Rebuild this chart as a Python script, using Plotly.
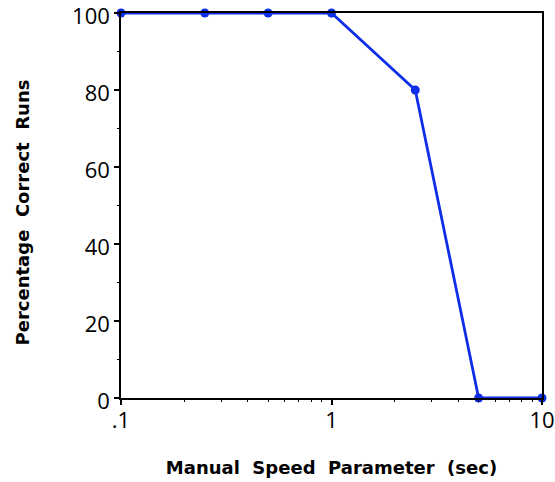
import plotly.graph_objects as go

speed_sec = [0.1, 0.25, 0.5, 1, 2.5, 5, 10]
pct_correct = [100, 100, 100, 100, 80, 0, 0]

x_tickvals = [0.1, 1, 10]
x_ticktext = [".1", "1", "10"]
y_tickvals = [0, 20, 40, 60, 80, 100]

x_minor = [m * d for d in (0.1, 1) for m in range(2, 10)]
y_minor = [10, 30, 50, 70, 90]

blue = "#0f2ee8"
sp = "\u00a0 "
title_font = dict(size=18, family="DejaVu Sans", weight="bold", color="black")

fig = go.Figure()
fig.add_trace(go.Scatter(
    x=speed_sec, y=pct_correct, mode="lines+markers",
    line=dict(color=blue, width=2.8),
    marker=dict(color=blue, size=9),
    cliponaxis=False, showlegend=False,
))

fig.update_layout(
    width=555, height=482,
    margin=dict(l=121, r=13, t=13, b=84),
    paper_bgcolor="white", plot_bgcolor="white",
    font=dict(family="Open Sans", color="black", size=22),
)
fig.update_xaxes(
    type="log", range=[-1, 1], automargin=False, ticklabeloverflow="allow",
    tickmode="array", tickvals=x_tickvals, ticktext=x_ticktext,
    ticks="outside", ticklen=5, tickwidth=1.5, tickcolor="black",
    ticklabelstandoff=-3,
    minor=dict(tickmode="array", tickvals=x_minor, ticks="outside", ticklen=2, tickwidth=1.2, tickcolor="black"),
    showline=True, linecolor="black", linewidth=1.5, mirror=True,
    showgrid=False, zeroline=False,
    title=dict(text="Manual" + sp + "Speed" + sp + "Parameter" + sp + "(sec)",
               font=title_font, standoff=28),
)
fig.update_yaxes(
    range=[0, 100], automargin=False, ticklabeloverflow="allow",
    tickmode="array", tickvals=y_tickvals,
    ticks="outside", ticklen=5, tickwidth=1.5, tickcolor="black",
    ticklabelshift=3,
    minor=dict(tickmode="array", tickvals=y_minor, ticks="outside", ticklen=2, tickwidth=1.2, tickcolor="black"),
    showline=True, linecolor="black", linewidth=1.5, mirror=True,
    showgrid=False, zeroline=False,
    title=dict(text="Percentage" + sp + "Correct" + sp + "Runs\u2800",
               font=title_font, standoff=38),
)

fig.write_html("out.html")
